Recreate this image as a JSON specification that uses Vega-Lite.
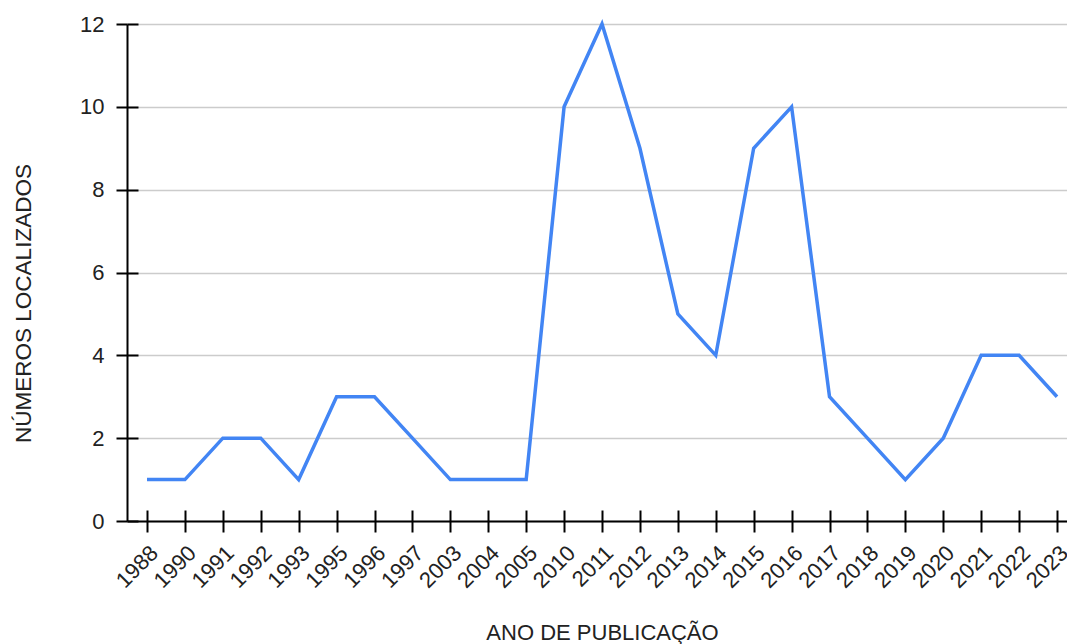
{
  "$schema": "https://vega.github.io/schema/vega-lite/v6.json",
  "width": 940,
  "height": 497,
  "autosize": {"type": "none"},
  "padding": {"left": 127, "top": 24, "right": 0, "bottom": 123},
  "background": "white",
  "config": {
    "view": {"stroke": null},
    "font": "Liberation Sans"
  },
  "data": {
    "values": [
      {"ano": "1988", "n": 1},
      {"ano": "1990", "n": 1},
      {"ano": "1991", "n": 2},
      {"ano": "1992", "n": 2},
      {"ano": "1993", "n": 1},
      {"ano": "1995", "n": 3},
      {"ano": "1996", "n": 3},
      {"ano": "1997", "n": 2},
      {"ano": "2003", "n": 1},
      {"ano": "2004", "n": 1},
      {"ano": "2005", "n": 1},
      {"ano": "2010", "n": 10},
      {"ano": "2011", "n": 12},
      {"ano": "2012", "n": 9},
      {"ano": "2013", "n": 5},
      {"ano": "2014", "n": 4},
      {"ano": "2015", "n": 9},
      {"ano": "2016", "n": 10},
      {"ano": "2017", "n": 3},
      {"ano": "2018", "n": 2},
      {"ano": "2019", "n": 1},
      {"ano": "2020", "n": 2},
      {"ano": "2021", "n": 4},
      {"ano": "2022", "n": 4},
      {"ano": "2023", "n": 3}
    ]
  },
  "layer": [
    {
      "mark": {"type": "line", "strokeOpacity": 0},
      "encoding": {
        "x": {
          "field": "ano", "type": "ordinal", "sort": null,
          "scale": {"type": "point", "padding": 0.3956, "align": 0.667},
          "axis": {
            "orient": "bottom", "offset": -11, "tickSize": 11, "tickWidth": 2, "tickColor": "#000",
            "labels": false, "domain": false, "grid": false, "title": null
          }
        },
        "y": {
          "field": "n", "type": "quantitative",
          "scale": {"domain": [0, 12], "nice": false},
          "axis": {
            "orient": "left", "offset": -11, "tickSize": 11, "tickWidth": 2, "tickColor": "#000",
            "values": [0, 2, 4, 6, 8, 10, 12],
            "labels": false, "domain": false, "grid": false, "title": null
          }
        }
      }
    },
    {
      "mark": {"type": "line", "color": "#4285F4", "strokeWidth": 3.5},
      "encoding": {
        "x": {
          "field": "ano", "type": "ordinal", "sort": null,
          "axis": {
            "orient": "bottom", "tickSize": 11, "tickWidth": 2, "tickColor": "#000",
            "domain": true, "domainColor": "#000", "domainWidth": 2,
            "grid": false,
            "labelAngle": -45, "labelAlign": "right", "labelBaseline": "top",
            "labelFontSize": 22, "labelColor": "#222", "labelPadding": 10,
            "title": "ANO DE PUBLICAÇÃO", "titleFontSize": 22, "titleFontWeight": "normal",
            "titleColor": "#222", "titleBaseline": "alphabetic", "titleX": 475, "titleY": 118
          }
        },
        "y": {
          "field": "n", "type": "quantitative",
          "axis": {
            "orient": "left", "tickSize": 11, "tickWidth": 2, "tickColor": "#000",
            "values": [0, 2, 4, 6, 8, 10, 12],
            "domain": true, "domainColor": "#000", "domainWidth": 2,
            "grid": true, "gridColor": "#cccccc", "gridWidth": 1.5,
            "labelFontSize": 22, "labelColor": "#222", "labelPadding": 12,
            "title": "NÚMEROS LOCALIZADOS", "titleFontSize": 22.5, "titleFontWeight": "normal",
            "titleColor": "#222", "titleBaseline": "alphabetic", "titleX": -97, "titleY": 279
          }
        }
      }
    }
  ],
  "resolve": {"axis": {"x": "independent", "y": "independent"}}
}
